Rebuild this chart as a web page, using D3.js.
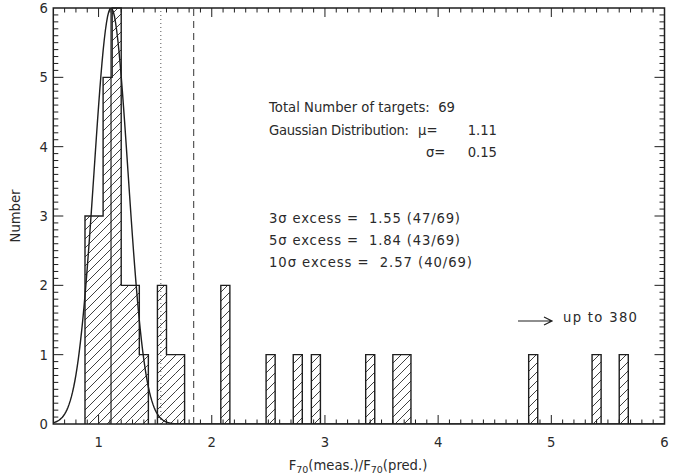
<!DOCTYPE html>
<html>
<head>
<meta charset="utf-8">
<script src="https://cdn.jsdelivr.net/npm/d3@7/dist/d3.min.js"></script>
<style>
  html, body { margin: 0; padding: 0; background: #fff; }
  svg { display: block; }
  text { font-family: "DejaVu Sans", "Liberation Sans", sans-serif; fill: #2a2a2a; white-space: pre; }
</style>
</head>
<body>
<svg id="chart" width="681" height="476"></svg>
<script>
// ---- data ----
const binWidth = 0.08;
const binLefts = [0.88, 0.96, 1.04, 1.12, 1.20, 1.28, 1.36, 1.52, 1.60, 1.68, 2.08, 2.48, 2.72, 2.88, 3.36, 3.60, 3.68, 4.80, 5.36, 5.60];
const binCounts = [3, 3, 5, 6, 2, 2, 1, 2, 1, 1, 2, 1, 1, 1, 1, 1, 1, 1, 1, 1];
const gaussMu = 1.11;
const gaussSigma = 0.15;
const gaussAmp = 6.0;
const excessValues = [1.55, 1.84];          // 3σ (dotted), 5σ (dashed)
const xTickValues = [1, 2, 3, 4, 5, 6];
const yTickValues = [0, 1, 2, 3, 4, 5, 6];
const infoLines = ["Total Number of targets:  69", "Gaussian Distribution:"];
const paramLabels = ["μ=", "σ="];
const paramValues = ["1.11", "0.15"];
const excessLines = ["3σ excess =  1.55 (47/69)", "5σ excess =  1.84 (43/69)", "10σ excess =  2.57 (40/69)"];
const arrowText = "up to 380";

// ---- layout ----
const svg = d3.select("#chart");
const x = d3.scaleLinear().domain([0.6, 6]).range([53.3, 664.5]);
const y = d3.scaleLinear().domain([0, 6]).range([424, 8]);
const ink = "#1e1e1e";
const fs = 13.2;

const defs = svg.append("defs");
const pat = defs.append("pattern").attr("id", "hatch")
  .attr("patternUnits", "userSpaceOnUse").attr("width", 9).attr("height", 9);
pat.append("path").attr("d", "M0,9 L9,0 M-2,2 L2,-2 M7,11 L11,7")
  .attr("stroke", "#2a2a2a").attr("stroke-width", 0.9).attr("fill", "none");
defs.append("clipPath").attr("id", "plotclip").append("rect")
  .attr("x", x(0.6)).attr("y", y(6)).attr("width", x(6) - x(0.6)).attr("height", y(0) - y(6));

const bins = binLefts.map((l, i) => ({ l: l, r: l + binWidth, c: binCounts[i] }));

// hatched fill
svg.append("g").selectAll("rect").data(bins).join("rect")
  .attr("x", d => x(d.l)).attr("y", d => y(d.c))
  .attr("width", d => x(d.r) - x(d.l)).attr("height", d => y(0) - y(d.c))
  .attr("fill", "url(#hatch)");

// outline (runs of adjacent bins)
const runs = [];
bins.forEach(b => {
  const last = runs[runs.length - 1];
  if (last && Math.abs(last[last.length - 1].r - b.l) < 1e-6) last.push(b);
  else runs.push([b]);
});
const outline = svg.append("g").attr("fill", "none").attr("stroke", ink).attr("stroke-width", 1.4);
runs.forEach(run => {
  let p = d3.path();
  p.moveTo(x(run[0].l), y(0));
  run.forEach(b => { p.lineTo(x(b.l), y(b.c)); p.lineTo(x(b.r), y(b.c)); });
  p.lineTo(x(run[run.length - 1].r), y(0));
  outline.append("path").attr("d", p.toString());
});

// gaussian curve
const gx = d3.range(0.6, 6.0001, 0.01);
const gauss = gx.map(v => [v, gaussAmp * Math.exp(-0.5 * Math.pow((v - gaussMu) / gaussSigma, 2))]);
svg.append("path").datum(gauss)
  .attr("clip-path", "url(#plotclip)")
  .attr("d", d3.line().x(d => x(d[0])).y(d => y(d[1])))
  .attr("fill", "none").attr("stroke", ink).attr("stroke-width", 1.4);

// mean line
svg.append("line").attr("x1", x(gaussMu)).attr("x2", x(gaussMu)).attr("y1", y(0)).attr("y2", y(6))
  .attr("stroke", ink).attr("stroke-width", 1.2);
// excess lines
svg.append("line").attr("x1", x(excessValues[0])).attr("x2", x(excessValues[0])).attr("y1", y(0)).attr("y2", y(6))
  .attr("stroke", "#555").attr("stroke-width", 1).attr("stroke-dasharray", "1,3");
svg.append("line").attr("x1", x(excessValues[1])).attr("x2", x(excessValues[1])).attr("y1", y(0)).attr("y2", y(6))
  .attr("stroke", "#555").attr("stroke-width", 1.2).attr("stroke-dasharray", "7,5");

// frame and ticks
const axes = svg.append("g").attr("stroke", ink).attr("fill", "none");
axes.append("rect").attr("x", x(0.6)).attr("y", y(6)).attr("width", x(6) - x(0.6)).attr("height", y(0) - y(6))
  .attr("stroke-width", 1.5);
const xMinor = d3.range(7, 60).map(v => v / 10);
const yMinor = d3.range(1, 60).map(v => v / 10);
xMinor.forEach(v => {
  const major = Math.abs(v - Math.round(v)) < 1e-6;
  const len = major ? 9 : 4.5;
  axes.append("line").attr("x1", x(v)).attr("x2", x(v)).attr("y1", y(0)).attr("y2", y(0) - len).attr("stroke-width", 1);
  axes.append("line").attr("x1", x(v)).attr("x2", x(v)).attr("y1", y(6)).attr("y2", y(6) + len).attr("stroke-width", 1);
});
yMinor.forEach(v => {
  const major = Math.abs(v - Math.round(v)) < 1e-6;
  const len = major ? 10 : 5;
  axes.append("line").attr("x1", x(0.6)).attr("x2", x(0.6) + len).attr("y1", y(v)).attr("y2", y(v)).attr("stroke-width", 1);
  axes.append("line").attr("x1", x(6)).attr("x2", x(6) - len).attr("y1", y(v)).attr("y2", y(v)).attr("stroke-width", 1);
});

// tick labels
svg.append("g").selectAll("text").data(xTickValues).join("text")
  .attr("x", d => x(d)).attr("y", 447).attr("text-anchor", "middle")
  .attr("font-size", fs).text(d => d);
svg.append("g").selectAll("text").data(yTickValues).join("text")
  .attr("x", 48).attr("y", d => y(d) + 5).attr("text-anchor", "end")
  .attr("font-size", fs).text(d => d);

// axis titles
svg.append("text").attr("transform", "translate(20,216) rotate(-90)")
  .attr("text-anchor", "middle").attr("font-size", fs).text("Number");
const xt = svg.append("text").attr("x", 358).attr("y", 470).attr("text-anchor", "middle").attr("font-size", fs);
xt.append("tspan").text("F");
xt.append("tspan").attr("font-size", 9.5).attr("dy", 3).text("70");
xt.append("tspan").attr("dy", -3).text("(meas.)/F");
xt.append("tspan").attr("font-size", 9.5).attr("dy", 3).text("70");
xt.append("tspan").attr("dy", -3).text("(pred.)");

// annotations
const ann = svg.append("g").attr("font-size", fs);
function fitText(tx, ty, str, len) {
  const t = ann.append("text").attr("x", tx).attr("y", ty).text(str);
  if (len) t.attr("textLength", len).attr("lengthAdjust", "spacing");
  return t;
}
fitText(269, 112, infoLines[0], 186);
fitText(269, 135, infoLines[1], 140);
fitText(418, 135, paramLabels[0]);
fitText(426, 157, paramLabels[1]);
ann.append("text").attr("x", 497).attr("y", 135).attr("text-anchor", "end").text(paramValues[0]);
ann.append("text").attr("x", 497).attr("y", 157).attr("text-anchor", "end").text(paramValues[1]);
const excessLens = [191, 191, 203];
excessLines.forEach((t, i) => fitText(269, 223 + i * 22, t, excessLens[i]));
fitText(563, 322, arrowText, 74);
// arrow
const ay = 321;
svg.append("path").attr("d", `M518,${ay} L552,${ay} M544,${ay - 4} L552,${ay} L544,${ay + 4}`)
  .attr("fill", "none").attr("stroke", ink).attr("stroke-width", 1.2);
</script>
</body>
</html>
